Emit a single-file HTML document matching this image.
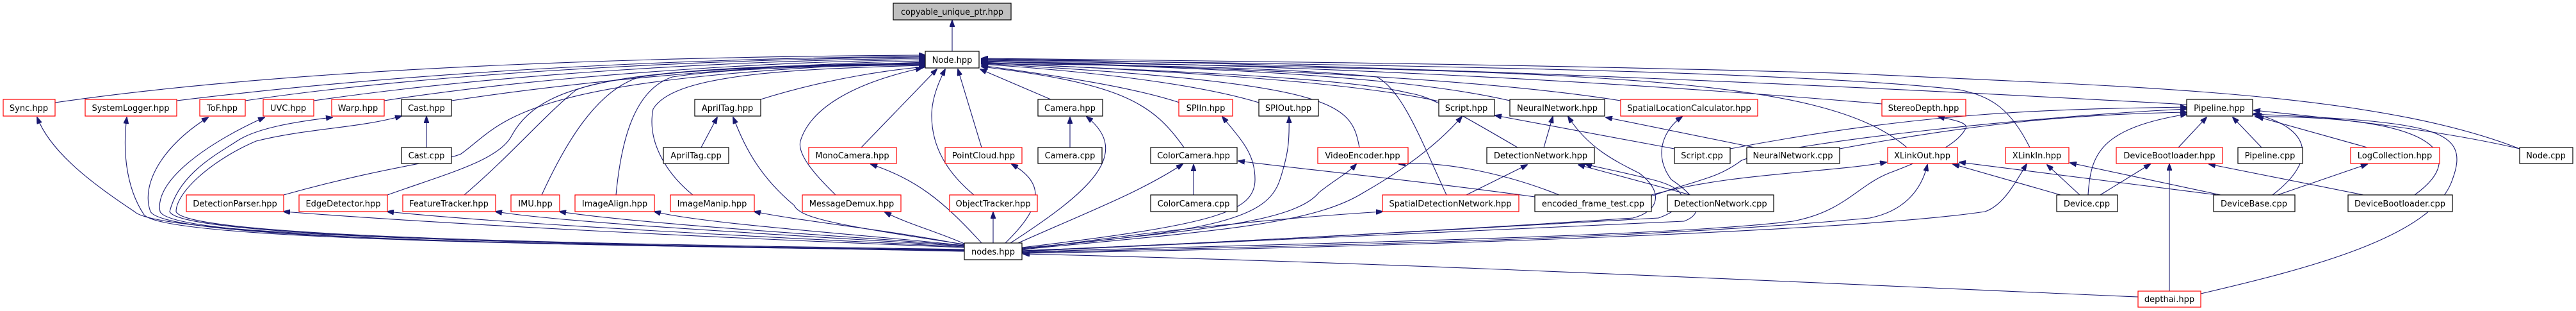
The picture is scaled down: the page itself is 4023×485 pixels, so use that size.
<!DOCTYPE html>
<html><head><meta charset="utf-8"><style>
html,body{margin:0;padding:0;background:#fff;}
svg{display:block;}
text{font-family:"DejaVu Sans","Liberation Sans",sans-serif;font-size:13px;fill:#000;}
.e{fill:none;stroke:#191970;stroke-width:1.1;}
.b{fill:#fff;stroke:#000;stroke-width:1.2;}
.r{fill:#fff;stroke:#ff0000;stroke-width:1.2;}
</style></head><body>
<svg width="4023" height="485" viewBox="0 0 4023 485" xmlns="http://www.w3.org/2000/svg">
<defs><marker id="a" markerWidth="11" markerHeight="8" refX="10" refY="4" orient="auto" markerUnits="userSpaceOnUse"><path d="M0,0 L11,4 L0,8 z" fill="#191970" stroke="#191970"/></marker></defs>
<g class="e" marker-end="url(#a)">
<path d="M1487,80 L1487,32"/>
<!-- to Node.hpp from left -->
<path d="M86,160 C500,100 1100,88 1445,86"/>
<path d="M276,157 C700,105 1150,90 1445,88"/>
<path d="M383,157 C700,110 1150,92 1445,89"/>
<path d="M490,157 C780,115 1150,94 1445,91"/>
<path d="M600,157 C850,118 1200,96 1445,93"/>
<path d="M705,157 C950,120 1250,98 1445,95"/>
<path d="M443,304 C600,260 700,250 720,240 C790,190 800,120 1445,97"/>
<path d="M605,304 C700,270 780,250 800,210 C850,120 1000,105 1445,98"/>
<path d="M725,304 C800,240 850,180 900,140 C980,110 1200,102 1445,99"/>
<path d="M846,304 C880,230 930,140 1000,120 C1100,105 1300,102 1445,100"/>
<path d="M962,304 C970,220 990,140 1050,120 C1150,105 1300,103 1445,101"/>
<path d="M1082,304 C1040,270 1010,220 1020,170 C1050,120 1200,108 1445,102"/>
<path d="M1188,155 C1300,120 1400,108 1445,104"/>
<path d="M1305,304 C1270,270 1245,240 1250,220 C1265,170 1330,130 1440,106"/>
<path d="M1345,230 L1463,108"/>
<path d="M1521,304 C1480,270 1455,230 1455,180 C1455,150 1470,120 1476,108"/>
<path d="M1533,230 L1496,108"/>
<path d="M1641,155 L1531,108"/>
<!-- to Node.hpp from right -->
<path d="M1849,230 C1800,160 1750,130 1533,104"/>
<path d="M1842,160 C1750,130 1600,112 1533,102"/>
<path d="M1966,160 C1850,125 1650,108 1533,100"/>
<path d="M2123,230 C2110,160 2090,130 1533,99"/>
<path d="M2247,158 C2100,125 1800,110 1533,97"/>
<path d="M2358,157 C2200,120 1900,105 1533,96"/>
<path d="M2370,230 C2250,160 2230,150 2200,145 C2100,120 1800,110 1533,98"/>
<path d="M2259,304 C2220,220 2190,140 2150,120 C2000,105 1800,102 1533,99"/>
<path d="M2531,157 C2300,120 1900,105 1533,95"/>
<path d="M2939,162 C2500,125 2000,100 1533,94"/>
<path d="M2978,230 C2850,120 2500,110 1533,96"/>
<path d="M3170,230 C3140,170 3110,150 3060,140 C2800,110 2100,100 1533,93"/>
<path d="M3415,163 C3000,140 2200,100 1533,92"/>
<path d="M3935,232 C3700,140 3300,135 2900,115 C2400,100 1900,95 1533,91"/>
<!-- nodes.hpp to left children -->
<path d="M1506,392 C900,380 250,370 210,330 C150,290 80,240 58,183"/>
<path d="M1506,391 C900,382 260,375 225,335 C195,290 192,230 198,183"/>
<path d="M1506,391 C900,382 260,375 235,330 C220,290 250,230 325,183"/>
<path d="M1506,390 C900,382 270,375 250,330 C240,280 330,220 413,183"/>
<path d="M1506,390 C900,382 280,370 265,330 C280,270 340,240 370,220 C400,200 460,190 519,183"/>
<path d="M1506,389 C900,380 290,370 275,330 C275,300 330,250 400,220 C480,200 560,200 627,181"/>
<path d="M1506,386 C1100,370 700,350 443,330"/>
<path d="M1506,385 C1200,370 800,350 605,330"/>
<path d="M1506,384 C1300,370 900,350 774,330"/>
<path d="M1506,383 C1350,370 1000,350 874,330"/>
<path d="M1506,383 C1400,370 1100,350 1022,330"/>
<path d="M1506,382 C1400,360 1250,345 1178,330"/>
<path d="M1506,381 C1300,350 1250,340 1240,320 C1180,270 1160,220 1145,183"/>
<path d="M1506,380 C1460,360 1420,350 1382,331"/>
<path d="M1533,379 C1470,310 1430,280 1360,256"/>
<path d="M1551,379 L1551,331"/>
<path d="M1570,379 C1620,330 1640,290 1580,256"/>
<path d="M1578,379 C1700,300 1770,240 1697,182"/>
<path d="M1590,379 C1700,330 1780,300 1847,256"/>
<!-- nodes.hpp to right children -->
<path d="M1596,386 C1900,350 1960,330 1960,280 C1960,240 1940,220 1909,182"/>
<path d="M1596,387 C1900,360 1980,340 1999,280 C2012,240 2014,220 2013,182"/>
<path d="M1596,388 C1850,360 2020,350 2060,300 C2085,280 2105,270 2118,256"/>
<path d="M1596,389 C1900,360 2050,350 2130,300 C2200,260 2250,220 2283,182"/>
<path d="M1596,391 C2000,375 2400,350 2550,340 C2590,330 2600,300 2560,270 C2520,250 2480,230 2449,182"/>
<path d="M1596,391 C2000,375 2400,350 2590,340 C2620,330 2660,300 2580,280 C2520,265 2490,260 2476,256"/>
<path d="M1596,390 C1800,360 2000,340 2159,330"/>
<path d="M1596,392 C2000,375 2400,355 2630,345 C2670,330 2640,300 2610,280 C2580,240 2600,200 2627,182"/>
<path d="M1596,393 C2000,380 2600,370 2800,345 C2880,330 2900,290 2950,270 C3030,240 3060,220 3070,200 C3075,190 3040,185 3027,182"/>
<path d="M1596,394 C2200,380 2600,370 2920,340 C2970,330 3000,300 3010,257"/>
<path d="M1596,395 C2200,385 2900,360 3100,330 C3130,320 3150,280 3165,256"/>
<path d="M3339,463 C2800,440 2200,410 1598,396"/>
<!-- others -->
<path d="M3388,454 L3388,256"/>
<path d="M3437,458 C3600,420 3800,370 3830,280 C3860,200 3800,190 3518,178"/>
<path d="M666,230 L666,182"/>
<path d="M1095,230 L1120,183"/>
<path d="M1671,230 L1671,183"/>
<path d="M1864,304 L1864,257"/>
<path d="M2397,307 C2200,280 2000,260 1934,251"/>
<path d="M2435,304 C2350,270 2250,250 2185,256"/>
<path d="M2579,304 C2700,270 2850,270 2946,253"/>
<path d="M2579,306 C2650,280 2680,280 2720,250 C2800,220 3200,180 3415,170"/>
<path d="M2411,230 L2425,182"/>
<path d="M2290,304 L2385,257"/>
<path d="M2640,304 L2465,257"/>
<path d="M2615,232 L2335,180"/>
<path d="M2702,232 C3000,175 3200,170 3415,167"/>
<path d="M2740,230 L2508,183"/>
<path d="M2873,232 C3100,190 3250,178 3415,175"/>
<path d="M3218,304 L3050,256"/>
<path d="M3248,304 L3197,257"/>
<path d="M3280,304 L3358,256"/>
<path d="M3261,304 C3265,240 3280,200 3415,178"/>
<path d="M3463,304 L3060,253"/>
<path d="M3468,304 L3233,254"/>
<path d="M3549,304 C3620,250 3610,200 3522,178"/>
<path d="M3557,304 L3697,256"/>
<path d="M3691,304 L3450,256"/>
<path d="M3771,304 C3860,240 3800,180 3522,182"/>
<path d="M3532,230 L3487,183"/>
<path d="M3697,230 L3525,182"/>
<path d="M3402,230 L3446,183"/>
<path d="M3935,232 C3800,200 3600,180 3520,172"/>
</g>
<!-- nodes -->
<g>
<rect x="1395" y="5" width="184" height="26" fill="#bfbfbf" stroke="#000" stroke-width="1.2"/><text x="1487" y="23" text-anchor="middle" textLength="160" lengthAdjust="spacingAndGlyphs">copyable_unique_ptr.hpp</text>
<rect class="b" x="1445" y="80" width="84" height="26"/><text x="1487" y="98" text-anchor="middle">Node.hpp</text>
<rect class="b" x="1506" y="379" width="90" height="26"/><text x="1551" y="397" text-anchor="middle">nodes.hpp</text>
<rect class="r" x="3339" y="454" width="98" height="25"/><text x="3388" y="471" text-anchor="middle">depthai.hpp</text>

<rect class="r" x="5" y="155" width="81" height="26"/><text x="45" y="173" text-anchor="middle">Sync.hpp</text>
<rect class="r" x="133" y="155" width="143" height="26"/><text x="204" y="173" text-anchor="middle">SystemLogger.hpp</text>
<rect class="r" x="312" y="155" width="71" height="26"/><text x="347" y="173" text-anchor="middle">ToF.hpp</text>
<rect class="r" x="411" y="155" width="79" height="26"/><text x="450" y="173" text-anchor="middle">UVC.hpp</text>
<rect class="r" x="518" y="155" width="82" height="26"/><text x="559" y="173" text-anchor="middle">Warp.hpp</text>
<rect class="b" x="627" y="155" width="78" height="26"/><text x="666" y="173" text-anchor="middle">Cast.hpp</text>
<rect class="b" x="627" y="230" width="78" height="25"/><text x="666" y="247" text-anchor="middle">Cast.cpp</text>
<rect class="b" x="1085" y="155" width="103" height="26"/><text x="1136" y="173" text-anchor="middle">AprilTag.hpp</text>
<rect class="b" x="1036" y="230" width="102" height="25"/><text x="1087" y="247" text-anchor="middle">AprilTag.cpp</text>
<rect class="r" x="1263" y="230" width="137" height="25"/><text x="1331" y="247" text-anchor="middle">MonoCamera.hpp</text>
<rect class="r" x="1476" y="230" width="120" height="25"/><text x="1536" y="247" text-anchor="middle">PointCloud.hpp</text>
<rect class="b" x="1621" y="155" width="101" height="26"/><text x="1671" y="173" text-anchor="middle">Camera.hpp</text>
<rect class="b" x="1621" y="230" width="100" height="25"/><text x="1671" y="247" text-anchor="middle">Camera.cpp</text>
<rect class="b" x="1797" y="230" width="135" height="25"/><text x="1864" y="247" text-anchor="middle">ColorCamera.hpp</text>
<rect class="b" x="1797" y="304" width="135" height="26"/><text x="1864" y="322" text-anchor="middle">ColorCamera.cpp</text>
<rect class="r" x="1841" y="155" width="84" height="26"/><text x="1883" y="173" text-anchor="middle">SPIIn.hpp</text>
<rect class="b" x="1966" y="155" width="93" height="26"/><text x="2012" y="173" text-anchor="middle">SPIOut.hpp</text>
<rect class="r" x="2058" y="230" width="141" height="25"/><text x="2128" y="247" text-anchor="middle">VideoEncoder.hpp</text>
<rect class="b" x="2247" y="155" width="87" height="26"/><text x="2290" y="173" text-anchor="middle">Script.hpp</text>
<rect class="b" x="2358" y="155" width="148" height="26"/><text x="2432" y="173" text-anchor="middle">NeuralNetwork.hpp</text>
<rect class="r" x="2531" y="155" width="214" height="26"/><text x="2638" y="173" text-anchor="middle">SpatialLocationCalculator.hpp</text>
<rect class="r" x="2939" y="155" width="131" height="26"/><text x="3004" y="173" text-anchor="middle">StereoDepth.hpp</text>
<rect class="b" x="2322" y="230" width="168" height="25"/><text x="2406" y="247" text-anchor="middle">DetectionNetwork.hpp</text>
<rect class="b" x="2615" y="230" width="87" height="25"/><text x="2658" y="247" text-anchor="middle">Script.cpp</text>
<rect class="b" x="2728" y="230" width="145" height="25"/><text x="2800" y="247" text-anchor="middle">NeuralNetwork.cpp</text>
<rect class="r" x="2948" y="230" width="109" height="25"/><text x="3002" y="247" text-anchor="middle">XLinkOut.hpp</text>
<rect class="b" x="3415" y="155" width="103" height="26"/><text x="3466" y="173" text-anchor="middle">Pipeline.hpp</text>
<rect class="r" x="3132" y="230" width="99" height="25"/><text x="3181" y="247" text-anchor="middle">XLinkIn.hpp</text>
<rect class="r" x="3305" y="230" width="166" height="25"/><text x="3388" y="247" text-anchor="middle">DeviceBootloader.hpp</text>
<rect class="b" x="3495" y="230" width="101" height="25"/><text x="3545" y="247" text-anchor="middle">Pipeline.cpp</text>
<rect class="r" x="3671" y="230" width="139" height="25"/><text x="3740" y="247" text-anchor="middle">LogCollection.hpp</text>
<rect class="b" x="3935" y="230" width="83" height="25"/><text x="3976" y="247" text-anchor="middle">Node.cpp</text>

<rect class="r" x="291" y="304" width="152" height="26"/><text x="367" y="322" text-anchor="middle">DetectionParser.hpp</text>
<rect class="r" x="467" y="304" width="138" height="26"/><text x="536" y="322" text-anchor="middle">EdgeDetector.hpp</text>
<rect class="r" x="629" y="304" width="145" height="26"/><text x="701" y="322" text-anchor="middle">FeatureTracker.hpp</text>
<rect class="r" x="798" y="304" width="76" height="26"/><text x="836" y="322" text-anchor="middle">IMU.hpp</text>
<rect class="r" x="898" y="304" width="124" height="26"/><text x="960" y="322" text-anchor="middle">ImageAlign.hpp</text>
<rect class="r" x="1047" y="304" width="131" height="26"/><text x="1112" y="322" text-anchor="middle">ImageManip.hpp</text>
<rect class="r" x="1253" y="304" width="154" height="26"/><text x="1330" y="322" text-anchor="middle">MessageDemux.hpp</text>
<rect class="r" x="1483" y="304" width="137" height="26"/><text x="1551" y="322" text-anchor="middle">ObjectTracker.hpp</text>
<rect class="r" x="2159" y="304" width="213" height="26"/><text x="2265" y="322" text-anchor="middle">SpatialDetectionNetwork.hpp</text>
<rect class="b" x="2397" y="304" width="182" height="26"/><text x="2488" y="322" text-anchor="middle">encoded_frame_test.cpp</text>
<rect class="b" x="2604" y="304" width="166" height="26"/><text x="2687" y="322" text-anchor="middle">DetectionNetwork.cpp</text>
<rect class="b" x="3212" y="304" width="95" height="26"/><text x="3259" y="322" text-anchor="middle">Device.cpp</text>
<rect class="b" x="3457" y="304" width="127" height="26"/><text x="3520" y="322" text-anchor="middle">DeviceBase.cpp</text>
<rect class="b" x="3667" y="304" width="163" height="26"/><text x="3748" y="322" text-anchor="middle">DeviceBootloader.cpp</text>
</g>
</svg>
</body></html>
